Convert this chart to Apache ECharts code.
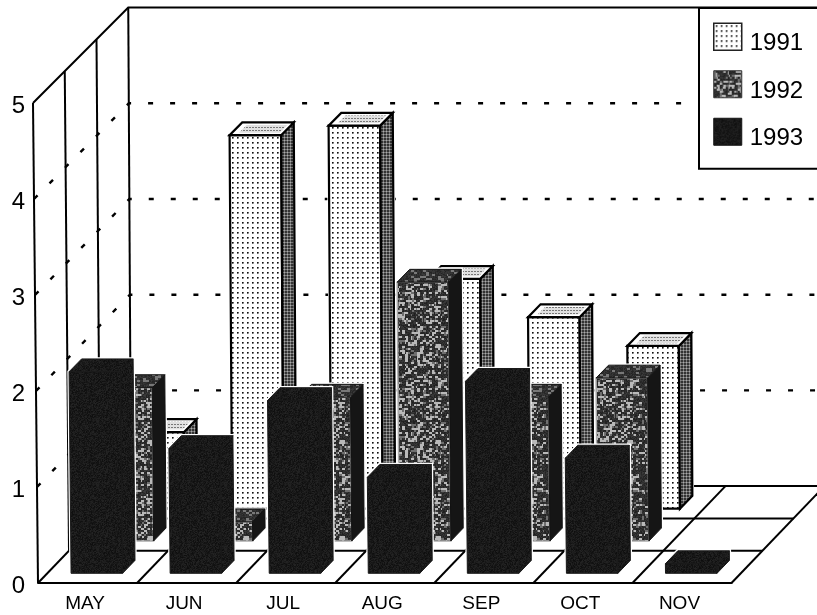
<!DOCTYPE html>
<html>
<head>
<meta charset="utf-8">
<style>html,body{margin:0;padding:0;background:#fff}#c{width:817px;height:615px;filter:blur(0.45px)}</style>
<script src="https://cdn.jsdelivr.net/npm/echarts@6/dist/echarts.min.js"></script>
</head>
<body>
<div id="c"></div>
<script>
var months = ['MAY','JUN','JUL','AUG','SEP','OCT','NOV'];
var yearNames = ['1991','1992','1993'];
var values1991 = [0.8,3.9,4.0,2.4,2.0,1.7,0];
var values1992 = [1.6,0.2,1.5,2.7,1.5,1.7,0];
var values1993 = [2.1,1.3,1.8,1.0,2.0,1.2,0.1];
var gridTicks = [1,2,3,4];
var FONT = '"Liberation Sans",Arial,sans-serif';

function hash(x,y,s){var t=Math.sin(x*127.1+y*311.7+s*74.7)*43758.5453;return t-Math.floor(t);}
function makePattern(w,h,fn){
  var c=document.createElement('canvas');c.width=w;c.height=h;
  var g=c.getContext('2d');
  for(var y=0;y<h;y++)for(var x=0;x<w;x++){g.fillStyle=fn(x,y);g.fillRect(x,y,1,1);}
  return {image:c,repeat:'repeat'};
}
function gray(v){v=Math.round(v);return 'rgb('+v+','+v+','+v+')';}
var dots = makePattern(5,5,function(x,y){
  if(x===2&&y===2)return '#111';
  if((x===3&&y===2)||(x===2&&y===3))return '#666';
  if(x===3&&y===3)return '#aaa';
  return '#fff';
});
var dotSide = makePattern(3,3,function(x,y){
  return (x===2&&y===2)?'#aaa':((x===2||y===2)?'#777':'#333');
});
var stipple = makePattern(3,3,function(x,y){return (y===1&&x!==2)?'#777':'#e0e0e0';});
var mottled = makePattern(96,96,function(x,y){
  var a=hash(Math.floor(x/3),Math.floor(y/2),1), b=hash(x>>1,y>>1,2);
  var v=(a*0.65+b*0.35);
  return v>0.66?gray(185):(v>0.56?gray(110):gray(30+hash(x,y,3)*30));
});
var mottledDark = makePattern(64,64,function(x,y){
  var v=hash(Math.floor(x/3),Math.floor(y/2),4);
  return v>0.78?gray(120):gray(35+hash(x,y,5)*25);
});
var blackTex = makePattern(64,64,function(x,y){return gray(14+hash(x,y,6)*22);});

var looks = {
  '1991':{front:dots,side:dotSide,top:'#fff',edge:'#000',w:2.2,frontEdge:'#000',frontW:2.2},
  '1992':{front:mottled,side:'#151515',top:mottledDark,edge:'#111',w:1,frontEdge:'#aaa',frontW:1.5},
  '1993':{front:blackTex,side:blackTex,top:blackTex,edge:'#191919',w:1,frontEdge:'#191919',frontW:1}
};
var rowOf = {'1991':2.3,'1992':1.3,'1993':0.3};

function project(api,cat,u,row,val){
  var c=api.coord([cat,val]);
  var band=api.size([1,0])[0];
  return [c[0]+(u-0.5)*band+row*31-val*(1-0.15*row), c[1]-row*32.3+val*row*0.1];
}
function poly(pts,style){return {type:'polygon',shape:{points:pts},style:style};}
function line(pts,style){return {type:'polyline',shape:{points:pts},style:Object.assign({fill:null,stroke:'#000',lineWidth:2},style||{})};}

function barRenderer(year){
  return function(params,api){
    var cat=api.value(0),v=api.value(1);
    if(!v)return null;
    var L=looks[year],r0=rowOf[year],r1=r0+0.4,u0=0.24,u1=0.76;
    var P=function(u,r,h){return project(api,cat,u,r,h);};
    var edge={stroke:L.edge,lineWidth:L.w,lineJoin:'miter'};
    var sil=[P(u0,r0,0),P(u1,r0,0),P(u1,r1,0),P(u1,r1,v),P(u0,r1,v),P(u0,r0,v)];
    var kids=[
      poly(sil,{fill:'#fff',stroke:'#fff',lineWidth:3.5}),
      poly([P(u0,r0,0),P(u1,r0,0),P(u1,r0,v),P(u0,r0,v)],{fill:L.front,stroke:L.frontEdge,lineWidth:L.frontW,lineJoin:'miter'}),
      poly([P(u1,r0,0),P(u1,r1,0),P(u1,r1,v),P(u1,r0,v)],Object.assign({fill:L.side},edge)),
      poly([P(u0,r0,v),P(u1,r0,v),P(u1,r1,v),P(u0,r1,v)],Object.assign({fill:L.top},edge))
    ];
    if(year==='1991'){
      kids.push(poly([P(u0+0.07,r0+0.08,v),P(u1-0.04,r0+0.08,v),P(u1-0.04,r1-0.08,v),P(u0+0.07,r1-0.08,v)],{fill:stipple}));
    }
    return {type:'group',children:kids};
  };
}
function frameRenderer(params,api){
  var last=months.length-1, kids=[];
  var P=function(c,u,r,h){return project(api,c,u,r,h);};
  gridTicks.forEach(function(t){
    kids.push(line([P(0,0,0,t),P(0,0,3,t),P(last,1,3,t)],{lineDash:[5,17],lineWidth:2.4}));
  });
  [0,1,2,3].forEach(function(r){kids.push(line([P(0,0,r,0),P(0,0,r,5)]));});
  kids.push(line([P(0,0,0,5),P(0,0,3,5),P(last,1,3,5)]));
  [1,2,3].forEach(function(r){kids.push(line([P(0,0,r,0),P(last,1,r,0)]));});
  months.forEach(function(m,i){kids.push(line([P(i,0,0,0),P(i,0,3,0)]));});
  kids.push(line([P(last,1,0,0),P(last,1,3,0)]));
  return {type:'group',children:kids};
}
function barSeries(year,data,color){
  return {name:year,type:'custom',renderItem:barRenderer(year),data:data.map(function(v,i){return [i,v];}),
    encode:{x:0,y:1},itemStyle:{color:color},clip:false,silent:true};
}
var chart=echarts.init(document.getElementById('c'),null,{renderer:'canvas'});
chart.setOption({
  animation:false,
  backgroundColor:'#fff',
  textStyle:{fontFamily:FONT,color:'#000'},
  grid:{left:38,top:103,width:693.5,height:480,containLabel:false},
  xAxis:{type:'category',data:months,axisTick:{show:false},
    axisLine:{show:true,lineStyle:{color:'#000',width:2}},
    axisLabel:{color:'#000',fontSize:19,margin:11,padding:[0,5,0,0],fontFamily:FONT},
    splitLine:{show:false}},
  yAxis:{type:'value',min:0,max:5,interval:1,axisLine:{show:false},axisTick:{show:false},splitLine:{show:false},
    axisLabel:{color:'#000',margin:13,formatter:'{a|{value}}',
      rich:{a:{fontSize:24,color:'#000',fontFamily:FONT,padding:[7,0,0,0]}}}},
  legend:{orient:'vertical',left:699,top:8,padding:[14.5,30,18,14],itemWidth:28,itemHeight:27,itemGap:14.5,
    backgroundColor:'#fff',borderColor:'#000',borderWidth:2,selectedMode:false,
    formatter:'{a|{name}}',
    textStyle:{color:'#000',fontFamily:FONT,fontSize:24,
      rich:{a:{fontSize:24,color:'#000',fontFamily:FONT,padding:[14,0,0,3]}}},
    data:[
      {name:'1991',icon:'rect',itemStyle:{color:dots,borderColor:'#222',borderWidth:1.5}},
      {name:'1992',icon:'rect',itemStyle:{color:mottled,borderColor:'#333',borderWidth:1}},
      {name:'1993',icon:'rect',itemStyle:{color:blackTex,borderColor:'#151515',borderWidth:1}}
    ]},
  series:[
    {name:'frame',type:'custom',renderItem:frameRenderer,data:[[0,0]],encode:{x:0,y:1},clip:false,silent:true},
    barSeries(yearNames[0],values1991,'#fff'),
    barSeries(yearNames[1],values1992,'#555'),
    barSeries(yearNames[2],values1993,'#1a1a1a')
  ]
});
</script>
</body>
</html>
